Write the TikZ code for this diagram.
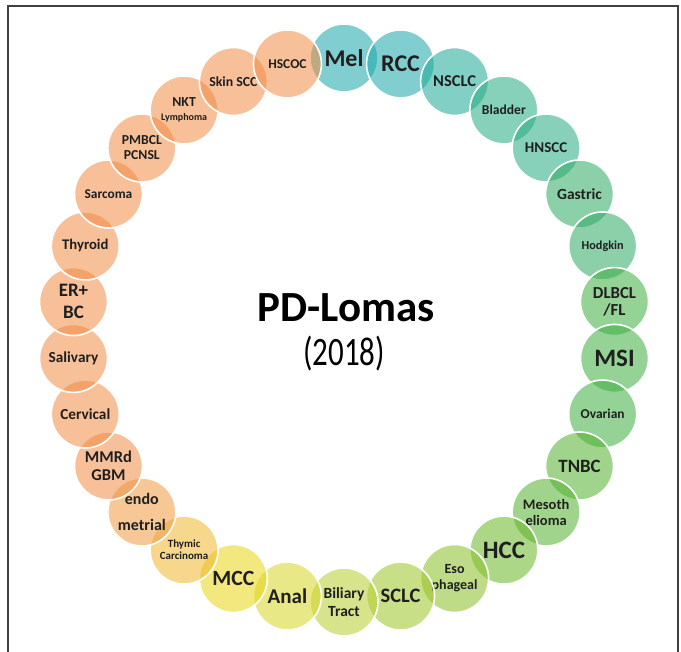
\documentclass[tikz,border=0pt]{standalone}
\usepackage{fontspec}
\setmainfont{Carlito}
\usetikzlibrary{positioning}
\usepackage{xcolor}

% fill colours of the ring (seen through fill opacity)
\definecolor{tealA}{RGB}{24,166,170}
\definecolor{tealB}{RGB}{28,170,150}
\definecolor{tealC}{RGB}{37,170,128}
\definecolor{jade}{RGB}{46,170,100}
\definecolor{greenA}{RGB}{60,173,64}
\definecolor{greenB}{RGB}{82,177,46}
\definecolor{greenC}{RGB}{104,182,37}
\definecolor{limeA}{RGB}{137,191,37}
\definecolor{limeB}{RGB}{155,195,37}
\definecolor{limeC}{RGB}{182,206,46}
\definecolor{yellA}{RGB}{213,213,37}
\definecolor{yellB}{RGB}{231,213,19}
\definecolor{amber}{RGB}{240,182,46}
\definecolor{peachA}{RGB}{240,155,64}
\definecolor{peachB}{RGB}{240,140,68}

\tikzset{
  disc/.style={circle, minimum size=68pt, inner sep=0pt, draw=white, line width=1.6pt,
    fill opacity=0.55, text opacity=1, align=center, text=black!88},
}

\begin{document}
\begin{tikzpicture}[x=1pt, y=1pt]
  \useasboundingbox (-344,-322) rectangle (337,330);
  % frame
  \draw[line width=1.3pt, black!75] (-336,-330) -- (-336,324) -- (334,324) -- (334,-330);
  % ring, clockwise from the top
  \foreach \lbl/\col/\fs/\bs [count=\i from 0] in {
      Mel/tealA/24/26, RCC/tealA/24/26, NSCLC/tealB/16.5/18, Bladder/tealC/13.6/15,
      HNSCC/tealC/15/17, Gastric/jade/15.5/17, Hodgkin/jade/12.2/14,
      {DLBCL\\/FL}/greenA/16.8/17, MSI/greenA/25/27, Ovarian/greenA/13.5/15,
      TNBC/greenB/18.8/20, {Mesoth\\elioma}/greenB/14.5/16, HCC/greenC/25/27,
      {Eso\\phageal}/limeA/14/16, SCLC/limeB/20.5/22, {Biliary\\Tract}/limeC/15.5/18,
      Anal/yellA/21/23, MCC/yellB/21.7/23, {Thymic\\Carcinoma}/amber/11/12,
      {endo\\metrial}/peachA/16/26, {MMRd\\GBM}/peachB/16.5/18, Cervical/peachB/15.3/17,
      Salivary/peachB/15.3/17, {ER+\\BC}/peachB/19/22, Thyroid/peachB/14.7/16,
      Sarcoma/peachB/13.4/15, {PMBCL\\PCNSL}/peachB/13.7/15,
      {NKT\\{\fontsize{10}{12}\selectfont Lymphoma}}/peachB/13.8/14,
      Skin SCC/peachB/13.8/15, HSCOC/peachB/13.5/15}
  {
    \node[disc, fill=\col, font=\bfseries\fontsize{\fs}{\bs}\selectfont] (c\i) at ({90-12*\i}:272) {\lbl};
  }
  % title
  \node[anchor=base, font=\bfseries\fontsize{43}{48}\selectfont] (title) at (2,8) {PD-Lomas};
  \node[anchor=base, font=\fontsize{31}{34}\selectfont] (year) at (0,-36) {\scalebox{1}[1.3]{(2018)}};
\end{tikzpicture}
\end{document}
